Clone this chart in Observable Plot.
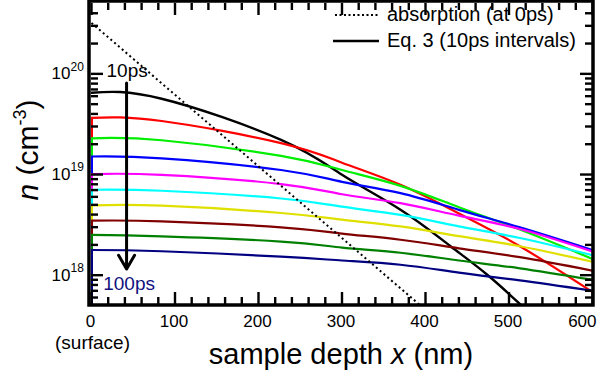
<!DOCTYPE html>
<html><head><meta charset="utf-8">
<script src="https://cdn.jsdelivr.net/npm/d3@7"></script>
<script src="https://cdn.jsdelivr.net/npm/@observablehq/plot@0.6"></script>
<style>
body{margin:0;background:#fff;}
svg{font-family:"Liberation Sans",Arial,Helvetica,sans-serif;}
</style>
</head><body><div id="chart"></div>
<script>
// ---- data ----
const depthNm   = [0, 84, 227, 300, 370, 440, 513, 600];
const depth10ps = [0, 84, 227, 300, 370, 430, 475, 515];
const n10ps  = [6.49e19, 5.66e19, 2.21e19, 9.93e18, 4.47e18, 1.94e18, 9.93e17, 5.0e17];
const n20ps  = [3.66e19, 3.40e19, 2.05e19, 1.31e19, 7.9e18, 4.1e18, 1.94e18, 6.8e17];
const n30ps  = [2.29e19, 2.19e19, 1.53e19, 1.11e19, 7.72e18, 4.73e18, 2.84e18, 1.45e18];
const n40ps  = [1.51e19, 1.45e19, 1.11e19, 8.46e18, 6.54e18, 4.46e18, 2.99e18, 1.78e18];
const n50ps  = [1.01e19, 9.93e18, 8.04e18, 6.37e18, 5.19e18, 3.9e18, 2.88e18, 1.72e18];
const n60ps  = [7.06e18, 6.9e18, 5.78e18, 4.79e18, 3.97e18, 3.06e18, 2.34e18, 1.58e18];
const n70ps  = [4.93e18, 4.9e18, 4.15e18, 3.56e18, 3.05e18, 2.44e18, 1.94e18, 1.36e18];
const n80ps  = [3.48e18, 3.43e18, 2.99e18, 2.59e18, 2.25e18, 1.85e18, 1.51e18, 1.11e18];
const n90ps  = [2.51e18, 2.43e18, 2.16e18, 1.88e18, 1.67e18, 1.4e18, 1.17e18, 9.0e17];
const n100ps = [1.78e18, 1.73e18, 1.53e18, 1.40e18, 1.27e18, 1.06e18, 8.87e17, 7.0e17];
const seriesLabels = ["10ps","20ps","30ps","40ps","50ps","60ps","70ps","80ps","90ps","100ps"];
const seriesColors = ["#000000","#ff0000","#00ee00","#0000ff","#ff00ff","#00ffff","#e0e000","#800000","#008000","#000080"];

const absorptionDepth = [0, 394];
const absorptionN = [3.2e20, 5e17];

const xDomain = [0, 600];
const yDomain = [5e17, 5e20];
const xMajorTicks = [0, 100, 200, 300, 400, 500, 600];
const xMinorTicks = [20,40,60,80,120,140,160,180,220,240,260,280,320,340,360,380,420,440,460,480,520,540,560,580];
const yMajorTicks = [1e18, 1e19, 1e20];
const yTickExponents = ["18", "19", "20"];
const yMinorTicks = [6e17,7e17,8e17,9e17,2e18,3e18,4e18,5e18,6e18,7e18,8e18,9e18,
                     2e19,3e19,4e19,5e19,6e19,7e19,8e19,9e19,2e20,3e20,4e20];

const legendLabels = ["absorption (at 0ps)", "Eq. 3 (10ps intervals)"];
const surfaceLabel = ["(surface)"];
const surfaceDepth = [0];
const arrowDepth = [42];
const arrowFromN = [8.1e19];
const arrowToN = [1.15e18];
const firstLabelDepth = [18], firstLabelN = [1.06e20];
const lastLabelDepth = [14], lastLabelN = [8.28e17];

// ---- layout ----
const W = 598, H = 370, mL = 91, mR = 6, mT = 3, mB = 65;
const innerW = W - mL - mR, innerH = H - mT - mB;

// ---- marks ----
const seriesN = [n10ps, n20ps, n30ps, n40ps, n50ps, n60ps, n70ps, n80ps, n90ps, n100ps];
const marks = [];
seriesN.forEach((vals, i) => {
  const depths = i === 0 ? depth10ps : depthNm;
  const rows = vals.map((n, j) => ({depth: depths[j], n}));
  marks.push(Plot.line(rows, {x: "depth", y: "n", stroke: seriesColors[i], strokeWidth: i === 0 ? 2.4 : 2.2, curve: "natural", clip: true}));
  if (i > 0) marks.push(Plot.ruleX([rows[0]], {x: "depth", y1: () => yDomain[0], y2: "n", stroke: seriesColors[i], strokeWidth: 2, dx: 0.5}));
});
const absRows = absorptionDepth.map((d, j) => ({depth: d, n: absorptionN[j]}));
marks.push(Plot.line(absRows, {x: "depth", y: "n", stroke: "black", strokeWidth: 2, strokeDasharray: "2 3", strokeLinecap: "butt", clip: true}));

// annotations
marks.push(Plot.arrow([0], {x1: () => arrowDepth[0], x2: () => arrowDepth[0], y1: () => arrowFromN[0], y2: () => arrowToN[0],
  stroke: "black", strokeWidth: 3, headLength: 8, headAngle: 60}));
marks.push(Plot.text([seriesLabels[0]], {x: () => firstLabelDepth[0], y: () => firstLabelN[0], text: d => d, textAnchor: "start", fontSize: 19, fill: "black"}));
marks.push(Plot.text([seriesLabels[9]], {x: () => lastLabelDepth[0], y: () => lastLabelN[0], text: d => d, textAnchor: "start", fontSize: 19, fill: "#10107e"}));

// tick labels
marks.push(
  Plot.text(xMajorTicks.slice(0, 6), {x: d => d, text: d => String(d), frameAnchor: "bottom", lineAnchor: "top", dy: 9, dx: -1, fontSize: 17, fill: "black"}),
  Plot.text(xMajorTicks.slice(6), {x: d => d, text: d => String(d), frameAnchor: "bottom", lineAnchor: "top", dy: 9, dx: 4, textAnchor: "end", fontSize: 17, fill: "black"}),
  Plot.text(yMajorTicks, {y: d => d, text: () => "10", frameAnchor: "left", textAnchor: "end", dx: -21, fontSize: 17, fill: "black"}),
  Plot.text(yMajorTicks, {y: d => d, text: (d, i) => yTickExponents[i], frameAnchor: "left", textAnchor: "start", dx: -21, dy: -7, fontSize: 12, fill: "black"}),
  Plot.text(surfaceLabel, {x: (d, i) => surfaceDepth[i], text: d => d, frameAnchor: "bottom", lineAnchor: "top", dy: 30, dx: 1, fontSize: 19, fill: "black"})
);

// inward ticks on all four sides: rules inset to the tick length (drawn last, above curves)
const tw = {stroke: "black", strokeWidth: 2.4};
marks.push(
  Plot.ruleX(xMajorTicks, {x: d => d, insetTop: innerH - 13, ...tw}),
  Plot.ruleX(xMinorTicks, {x: d => d, insetTop: innerH - 8, ...tw}),
  Plot.ruleX(xMajorTicks, {x: d => d, insetBottom: innerH - 12, ...tw}),
  Plot.ruleX(xMinorTicks, {x: d => d, insetBottom: innerH - 7, ...tw}),
  Plot.ruleY(yMajorTicks, {y: d => d, insetRight: innerW - 12, ...tw}),
  Plot.ruleY(yMinorTicks, {y: d => d, insetRight: innerW - 7, ...tw}),
  Plot.ruleY(yMajorTicks, {y: d => d, insetLeft: innerW - 12, ...tw}),
  Plot.ruleY(yMinorTicks, {y: d => d, insetLeft: innerW - 7, ...tw})
);

const chart = Plot.plot({
  width: W, height: H,
  marginLeft: mL, marginRight: mR, marginTop: mT, marginBottom: mB,
  x: {domain: xDomain, axis: null},
  y: {type: "log", domain: yDomain, axis: null},
  style: {fontFamily: '"Liberation Sans", Arial, Helvetica, sans-serif', fontSize: "17px", background: "white", overflow: "visible"},
  marks
});
document.getElementById("chart").appendChild(chart);

// ---- frame ----
const svg = d3.select(chart);
const pLeft = mL, pRight = W - mR, pTop = mT, pBottom = H - mB;
svg.append("rect").attr("x", pLeft - 2).attr("y", pTop - 2).attr("width", pRight + 1 - (pLeft - 2)).attr("height", pBottom - (pTop - 2))
  .attr("fill", "none").attr("stroke", "black").attr("stroke-width", 3.5);

// ---- titles & legend (text with mixed styles) ----
const ff = '"Liberation Sans", Arial, Helvetica, sans-serif';
const xTitle = svg.append("text").attr("x", 341).attr("y", 364).attr("text-anchor", "middle")
  .attr("font-size", 29).attr("font-family", ff).attr("fill", "black");
xTitle.append("tspan").text("sample depth ");
xTitle.append("tspan").attr("font-style", "italic").text("x");
xTitle.append("tspan").text(" (nm)");

const yTitle = svg.append("text").attr("transform", "translate(38,150) rotate(-90)").attr("text-anchor", "middle")
  .attr("font-size", 30).attr("font-family", ff).attr("fill", "black");
yTitle.append("tspan").attr("font-style", "italic").text("n");
yTitle.append("tspan").text(" (cm");
yTitle.append("tspan").attr("font-size", 18).attr("dy", -12).text("-3");
yTitle.append("tspan").attr("dy", 12).text(")");

const lg = svg.append("g").attr("font-family", ff).attr("font-size", 20).attr("fill", "black").attr("text-anchor", "start");
lg.append("line").attr("x1", 335).attr("x2", 379).attr("y1", 15).attr("y2", 15)
  .attr("stroke", "black").attr("stroke-width", 2).attr("stroke-dasharray", "2 2.5");
lg.append("text").attr("x", 387).attr("y", 21).attr("text-anchor", "start").text(legendLabels[0]);
lg.append("line").attr("x1", 333).attr("x2", 379).attr("y1", 41).attr("y2", 41)
  .attr("stroke", "black").attr("stroke-width", 2.5);
lg.append("text").attr("x", 387).attr("y", 47).attr("text-anchor", "start").text(legendLabels[1]);
</script>
</body></html>
